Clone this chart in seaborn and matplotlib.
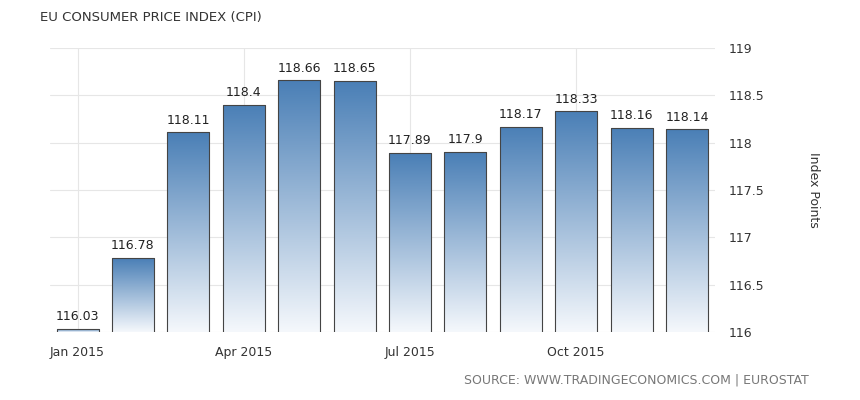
import matplotlib
matplotlib.use("Agg")
import matplotlib.pyplot as plt
import seaborn as sns
import numpy as np
import pandas as pd
from matplotlib.colors import LinearSegmentedColormap

months = ["Jan 2015","Feb 2015","Mar 2015","Apr 2015","May 2015","Jun 2015",
          "Jul 2015","Aug 2015","Sep 2015","Oct 2015","Nov 2015","Dec 2015"]
values = [116.03,116.78,118.11,118.4,118.66,118.65,117.89,117.9,118.17,118.33,118.16,118.14]
labels = ["116.03","116.78","118.11","118.4","118.66","118.65","117.89","117.9","118.17","118.33","118.16","118.14"]
yticks = [116,116.5,117,117.5,118,118.5,119]
ytick_labels = ["116","116.5","117","117.5","118","118.5","119"]

sns.set_style("white")
plt.rcParams['font.family'] = ['DejaVu Sans']
fig = plt.figure(figsize=(8.6,4), dpi=100)
ax = fig.add_axes([0.058,0.17,0.773,0.71])
df = pd.DataFrame({"m":months,"v":values})
sns.barplot(data=df, x="m", y="v", ax=ax, width=0.76, color="white",
            edgecolor="#444444", linewidth=0.8, zorder=2)
ymin, ymax = 116, 119
ax.set_ylim(ymin, ymax)
ax.set_xlim(-0.5, 11.5)
cmap = LinearSegmentedColormap.from_list("g", ["#f5f8fc", "#4a7fb6"])
grad = np.linspace(0,1,256).reshape(-1,1)
for p in ax.patches:
    x0 = p.get_x(); w = p.get_width(); h = p.get_height()
    top = p.get_y()+h
    im = ax.imshow(grad, cmap=cmap, origin="lower", aspect="auto",
                   extent=[x0, x0+w, ymin, top], zorder=2.5)
    im.set_clip_path(p)
    p.set_zorder(3); p.set_facecolor("none")
for i,(v,l) in enumerate(zip(values,labels)):
    ax.text(i, v+0.06, l, ha="center", va="bottom", fontsize=9, color="#222222")
ax.yaxis.tick_right()
ax.set_yticks(yticks)
ax.set_yticklabels(ytick_labels, fontsize=9, color="#333333")
ax.set_xticks([0,3,6,9])
ax.set_xticklabels(["Jan 2015","Apr 2015","Jul 2015","Oct 2015"], fontsize=9, color="#333333")
ax.tick_params(length=0, pad=10)
ax.grid(True, color="#e6e6e6", linewidth=0.8, zorder=0)
ax.set_axisbelow(True)
for s in ax.spines.values():
    s.set_visible(False)
ax.set_xlabel(""); ax.set_ylabel("")
ax.yaxis.set_label_position("right")
ax.set_ylabel("Index Points", rotation=-90, labelpad=40, fontsize=9, color="#333333")
fig.text(0.047, 0.955, "EU CONSUMER PRICE INDEX (CPI)", fontsize=9.5, color="#333333", va="center")
fig.text(0.94, 0.05, "SOURCE: WWW.TRADINGECONOMICS.COM | EUROSTAT", fontsize=9,
         color="#777777", ha="right", va="center")
fig.savefig("out.png", dpi=100)
